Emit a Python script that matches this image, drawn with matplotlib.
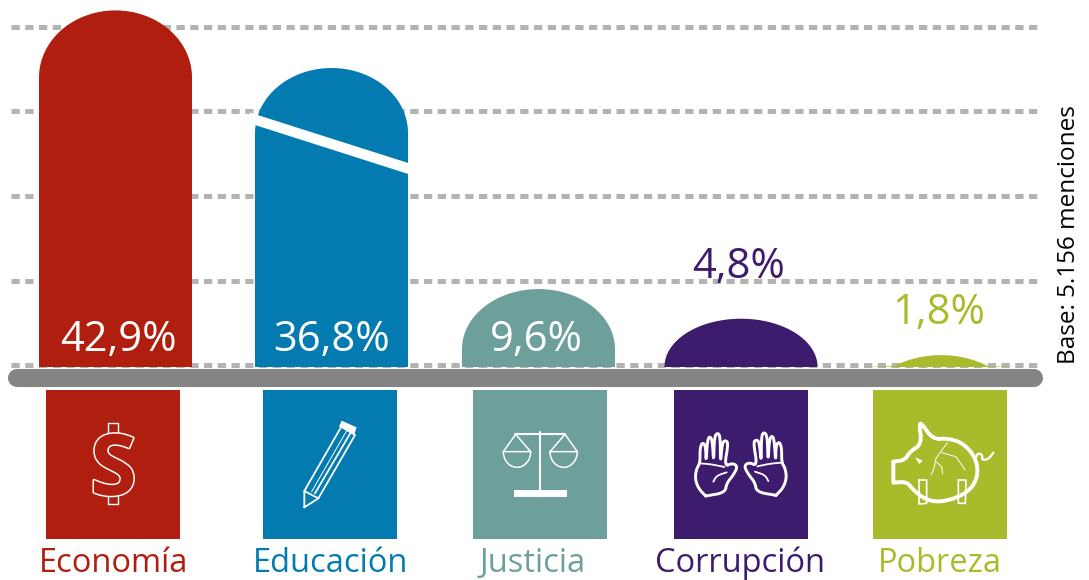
import numpy as np
import matplotlib
matplotlib.use('Agg')
import matplotlib.pyplot as plt
import matplotlib.patheffects as pe
from matplotlib.patches import Rectangle, Polygon

# Datos
categorias = ['Economía', 'Educación', 'Justicia', 'Corrupción', 'Pobreza']
etiquetas = ['42,9%', '36,8%', '9,6%', '4,8%', '1,8%']
# alturas dibujadas, leidas contra la rejilla (no son proporcionales a las etiquetas)
alturas = [41.9, 35.1, 9.0, 5.5, 1.2]
rejilla = [0, 10, 20, 30, 40]

colores = ['#AF1E0E', '#037BB0', '#6EA09B', '#3D1B6D', '#A9BB2B']
centros = [115.5, 331.5, 538.5, 741, 941]
iconos_x = [46, 263, 473, 674, 873]
domos = [67, 65, 60, 48, 53]  # alto de la cupula en px
ancho = 153

plt.rcParams['font.family'] = ['Open Sans', 'DejaVu Sans']
W, H = 1089, 580
fig = plt.figure(figsize=(W / 100, H / 100), dpi=100)

# ejes del grafico: x en px, y en las unidades de la rejilla
Y0, ESC = 365.3, 8.47
ax = fig.add_axes([0, 0, 1, 1])
ax.set_xlim(0, W)
ax.set_ylim((Y0 - H) / ESC, Y0 / ESC)
ax.axis('off')

for v in rejilla:
    ax.plot([11, 1040], [v, v], color='#B3B3B3', lw=3.6, ls=(0, (1.65, 1.1)),
            dash_capstyle='butt', zorder=1)

base = -0.2
for c, h, col, d in zip(centros, alturas, colores, domos):
    b = d / ESC
    t = np.linspace(np.pi, 0, 80)
    xs = c + ancho / 2 * np.cos(t)
    ys = h - b + b * np.sin(t)
    xs = np.r_[c - ancho / 2, xs, c + ancho / 2]
    ys = np.r_[base, ys, base]
    # recorta lo que quede bajo la base (Pobreza)
    dentro = ys >= base
    ax.fill(xs[dentro], ys[dentro], color=col, lw=0, zorder=2)

# capa en px para raya, iconos y textos
px = fig.add_axes([0, 0, 1, 1])
px.set_xlim(0, W)
px.set_ylim(H, 0)
px.axis('off')
px.patch.set_alpha(0)

px.add_patch(Polygon([(250, 112.6), (412, 164.2), (412, 175.2), (250, 123.4)], color='white', lw=0, zorder=3))
px.plot([17, 1034], [378, 378], color='#848484', lw=13, solid_capstyle='round', zorder=4)

for x, col in zip(iconos_x, colores):
    px.add_patch(Rectangle((x, 390), 134, 149, color=col, lw=0))

pos_etiquetas = [(118, 340), (332, 340), (536, 340), (739, 267), (939, 313)]
col_etiquetas = ['white', 'white', 'white', colores[3], colores[4]]
for (x, y), txt, col in zip(pos_etiquetas, etiquetas, col_etiquetas):
    px.text(x, y, txt, color=col, fontsize=30, ha='center', va='center', zorder=5)

cat_x = [114, 331, 533, 740, 940]
for x, txt, col in zip(cat_x, categorias, colores):
    px.text(x, 572, txt, color=col, fontsize=23.5, ha='center', va='baseline')

px.text(1069, 235, 'Base: 5.156 menciones', color='black', fontsize=17.5, rotation=90,
        ha='center', va='center')


def suave(puntos, n=2):
    # recorte de esquinas para que las lineas no se vean quebradas
    p = np.array(puntos, dtype=float)
    for _ in range(n):
        q = 0.75 * p[:-1] + 0.25 * p[1:]
        r = 0.25 * p[:-1] + 0.75 * p[1:]
        p = np.vstack([p[0], np.column_stack([q, r]).reshape(-1, 2), p[-1]])
    return p


def trazo(puntos, ox, oy, lw=1.5, curva=True):
    p = suave(puntos) if curva else np.array(puntos, dtype=float)
    px.plot(ox + p[:, 0] / 3, oy + p[:, 1] / 3, color='white', lw=lw,
            solid_capstyle='round', solid_joinstyle='round', zorder=6)


# dolar: palitos y una S con contorno
ox, oy = 40, 385
trazo([(205, 150), (205, 113), (233, 113), (233, 150)], ox, oy, 1.0, False)
trazo([(205, 320), (205, 357), (233, 357), (233, 320)], ox, oy, 1.0, False)
px.text(113.5, 495, 'S', color=colores[0], fontsize=61, fontweight='bold', ha='center', va='baseline',
        path_effects=[pe.withStroke(linewidth=2.2, foreground='white')], zorder=6)

# lapiz
trazo([(793, 367), (793, 318), (904, 125), (945, 150), (835, 340), (793, 367)], ox, oy, 1.3, False)
trazo([(793, 318), (835, 340)], ox, oy, 1.3, False)
trazo([(815, 320), (920, 137)], ox, oy, 0.7, False)
trazo([(825, 325), (932, 143)], ox, oy, 1.3, False)
px.add_patch(Polygon([(40 + 905 / 3, 385 + 107 / 3), (40 + 950 / 3, 385 + 127 / 3), (40 + 943 / 3, 385 + 148 / 3),
                      (40 + 897 / 3, 385 + 125 / 3)], color='white', lw=0, zorder=6))

# balanza
ox, oy = 465, 385
trazo([(150, 148), (300, 148)], ox, oy, 1.5, False)
trazo([(225, 140), (225, 320)], ox, oy, 1.5, False)
px.add_patch(Rectangle((ox + 147 / 3, oy + 315 / 3), 53, 7, color='white', lw=0, zorder=6))
t = np.linspace(0, np.pi, 30)
for cx, ap in [(156, 152), (296, 300)]:
    trazo([(cx - 41, 200), (ap, 148), (cx + 41, 200), (cx - 41, 200)], ox, oy, 1.1, False)
    px.plot(ox + (cx + 41 * np.cos(t)) / 3, oy + (200 + 47 * np.sin(t)) / 3, color='white', lw=1.1, zorder=6)

# manos
mano = [(722, 333), (700, 310), (690, 280), (695, 250), (705, 235), (705, 190), (712, 172), (722, 182), (723, 235),
        (727, 170), (733, 153), (742, 165), (746, 237), (748, 155), (758, 143), (766, 155), (766, 240),
        (772, 172), (782, 166), (790, 175), (778, 245), (803, 234), (818, 245), (805, 270), (785, 295), (780, 323),
        (722, 333)]
palma = [(705, 235), (740, 238), (778, 246)]
pliegue = [(745, 290), (755, 272), (785, 262)]
for m, lw in [(mano, 2.1), (palma, 1.3), (pliegue, 1.3)]:
    trazo(m, ox, oy, lw)
    trazo([(1655 - a, b - 2) for a, b in m], ox, oy, lw)

# cerdo
ox, oy = 860, 340
cuerpo = [(100, 365), (100, 365), (135, 360), (150, 335), (185, 312), (178, 252), (185, 250), (218, 298), (265, 295),
          (310, 310), (345, 350), (355, 395), (340, 440), (300, 470), (240, 487), (195, 478), (160, 450),
          (140, 425), (100, 428), (100, 428), (100, 365), (100, 365)]
trazo(cuerpo, ox, oy, 2.8)
trazo([(345, 365), (352, 338), (368, 345), (365, 360), (385, 358), (400, 338)], ox, oy, 1.6)
px.add_patch(Polygon([(860 + 165 / 3, 340 + 352 / 3), (860 + 188 / 3, 340 + 362 / 3), (860 + 178 / 3, 340 + 372 / 3)],
                     color='white', lw=0, zorder=6))
trazo([(177, 420), (200, 420), (200, 490), (177, 492), (177, 420)], ox, oy, 1.2, False)
trazo([(295, 420), (318, 420), (316, 490), (295, 490), (295, 420)], ox, oy, 1.2, False)
trazo([(262, 308), (228, 355), (222, 385), (213, 405)], ox, oy, 0.7, False)
trazo([(245, 338), (288, 350), (315, 390)], ox, oy, 0.7, False)
trazo([(228, 365), (245, 380), (248, 402)], ox, oy, 0.7, False)

fig.savefig('out.png', dpi=100)
